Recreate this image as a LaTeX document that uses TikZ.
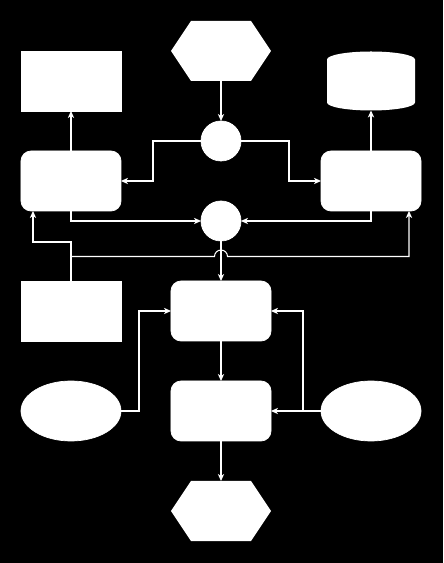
\documentclass[tikz,border=0pt]{standalone}
\usepackage{tikz}
\usetikzlibrary{shapes.geometric,arrows.meta}
\definecolor{bgblack}{rgb}{0,0,0}
\definecolor{boxwhite}{rgb}{1,1,1}

\begin{document}
\begin{tikzpicture}[>={Stealth[length=4pt,width=3.6pt,inset=1.2pt]},
	every node/.style={fill=boxwhite,draw=boxwhite,inner sep=0pt,outer sep=0pt},
	block/.style={rectangle,minimum width=2cm,minimum height=1.2cm},
	rblock/.style={block,rounded corners=0.2cm},
	ghost/.style={block,fill=none,draw=none},
	dot/.style={circle,minimum size=0.8cm},
	oval/.style={ellipse,minimum width=2cm,minimum height=1.2cm},
	link/.style={->,boxwhite,line width=0.6pt}]
				\fill[bgblack] (-4.42,-1.04) rectangle (4.44,10.22);
				\node[ghost] (src) at (0,9.2) {};
				\node[block] (out) at (-3,8.6) {};
				\node[ghost,minimum width=1.76cm,minimum height=1.18cm] (db) at (3,8.6) {};
				\node[dot] (split) at (0,7.4) {};
				\node[rblock] (lstage) at (-3,6.6) {};
				\node[rblock] (rstage) at (3,6.6) {};
				\node[dot] (merge) at (0,5.8) {};
				\node[block] (note) at (-3,4) {};
				\node[rblock] (proc) at (0,4) {};
				\node[oval] (inl) at (-3,2) {};
				\node[rblock] (work) at (0,2) {};
				\node[oval] (inr) at (3,2) {};
				\node[ghost] (sink) at (0,0) {};
				\foreach \n in {src,sink}{\fill[boxwhite] (\n.west)--([xshift=0.4cm]\n.north west)--([xshift=-0.4cm]\n.north east)--(\n.east)--([xshift=-0.4cm]\n.south east)--([xshift=0.4cm]\n.south west)--cycle;}
				\fill[boxwhite] ([yshift=-0.16cm]db.north west) arc (180:0:0.88 and 0.16)--([yshift=0.16cm]db.south east) arc (0:-180:0.88 and 0.16)--cycle;
				\draw[link] (src.south)--(split.north);
				\draw[link] (split.west)--++(-0.96,0)|-(lstage.east);
				\draw[link] (split.east)--++(0.96,0)|-(rstage.west);
				\draw[link] (lstage.north)--(out.south);
				\draw[link] (rstage.north)--(db.south);
				\draw[link] (lstage.south)|-(merge.west);
				\draw[link] (rstage.south)|-(merge.east);
				\draw[link] (merge.south)--(proc.north);
				\draw[link] (note.north)--++(0,0.78)-|([xshift=0.24cm]lstage.south west);
				\draw[link] (note.north)--++(0,0.49)--++(2.87,0) arc (180:0:0.13)-|([xshift=-0.24cm]rstage.south east);
				\draw[link] (proc.south)--(work.north);
				\draw[link] (work.south)--(sink.north);
				\draw[link] (inl.east)--++(0.36,0)|-(proc.west);
				\draw[link] (inr.west)--(work.east);
				\draw[link] (inr.west)--++(-0.36,0)|-(proc.east);
\end{tikzpicture}
\end{document}
